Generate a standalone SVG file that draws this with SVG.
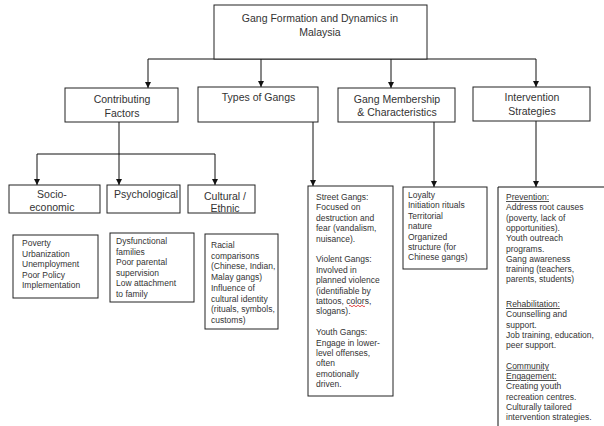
<svg xmlns="http://www.w3.org/2000/svg" width="604" height="426" viewBox="0 0 604 426">
<defs>
<style>
.box{fill:#fff;stroke:#222;stroke-width:1}
.hd{font-family:"Liberation Sans",Arial,sans-serif;font-size:10.5px;fill:#333;text-anchor:middle}
.tx{font-family:"Liberation Sans",Arial,sans-serif;font-size:8.5px;fill:#333}
.ln{fill:none;stroke:#111;stroke-width:1}
.ul{text-decoration:underline}
</style>
<marker id="ah" markerWidth="6" markerHeight="6" refX="6" refY="3" orient="auto" markerUnits="userSpaceOnUse">
<path d="M0,0 L6,3 L0,6 z" fill="#111"/>
</marker>
</defs>
<rect width="604" height="426" fill="#fff"/>

<g id="connectors">
<path class="ln" d="M148,59 H536"/>
<path class="ln" d="M148,59 V88" marker-end="url(#ah)"/>
<path class="ln" d="M261,59 V87" marker-end="url(#ah)"/>
<path class="ln" d="M391,59 V88" marker-end="url(#ah)"/>
<path class="ln" d="M536,59 V87" marker-end="url(#ah)"/>
<path class="ln" d="M119,122 V185" marker-end="url(#ah)"/>
<path class="ln" d="M37,154 H215"/>
<path class="ln" d="M37,154 V185" marker-end="url(#ah)"/>
<path class="ln" d="M215,154 V185" marker-end="url(#ah)"/>
<path class="ln" d="M313,122 V186" marker-end="url(#ah)"/>
<path class="ln" d="M434,122 V187" marker-end="url(#ah)"/>
<path class="ln" d="M536,121 V187" marker-end="url(#ah)"/>
</g>

<g id="root">
<rect class="box" x="214" y="5" width="213" height="54"/>
<text class="hd" x="320" y="21.5">Gang Formation and Dynamics in</text>
<text class="hd" x="320" y="35.5">Malaysia</text>
</g>

<g id="contributing">
<rect class="box" x="65" y="88" width="113" height="34"/>
<text class="hd" x="122" y="102.5">Contributing</text>
<text class="hd" x="122" y="116.5">Factors</text>
</g>

<g id="types">
<rect class="box" x="198" y="87" width="120" height="35"/>
<text class="hd" x="258.5" y="100.5">Types of Gangs</text>
</g>

<g id="membership">
<rect class="box" x="338" y="88" width="117" height="34"/>
<text class="hd" x="397" y="102.5">Gang Membership</text>
<text class="hd" x="397" y="115.5">&amp; Characteristics</text>
</g>

<g id="intervention">
<rect class="box" x="473" y="87" width="117" height="34"/>
<text class="hd" x="532" y="100.5">Intervention</text>
<text class="hd" x="532" y="114.5">Strategies</text>
</g>

<g id="socio">
<rect class="box" x="9" y="185" width="91" height="28"/>
<text class="hd" x="52" y="197.5">Socio-</text>
<text class="hd" x="52" y="211">economic</text>
</g>

<g id="psych">
<rect class="box" x="107" y="185" width="73" height="28"/>
<text class="hd" x="146" y="197.5">Psychological</text>
</g>

<g id="cultural">
<rect class="box" x="188" y="185" width="67" height="28"/>
<text class="hd" x="225" y="199.5">Cultural /</text>
<text class="hd" x="225" y="212">Ethnic</text>
</g>

<g id="socio-details">
<rect class="box" x="13" y="235" width="85" height="63"/>
<text class="tx" x="22" y="246">Poverty</text>
<text class="tx" x="22" y="256.5">Urbanization</text>
<text class="tx" x="22" y="267">Unemployment</text>
<text class="tx" x="22" y="277.5">Poor Policy</text>
<text class="tx" x="22" y="288">Implementation</text>
</g>

<g id="psych-details">
<rect class="box" x="110" y="233" width="84" height="69"/>
<text class="tx" x="116" y="244">Dysfunctional</text>
<text class="tx" x="116" y="254.6">families</text>
<text class="tx" x="116" y="265.2">Poor parental</text>
<text class="tx" x="116" y="275.8">supervision</text>
<text class="tx" x="116" y="286.4">Low attachment</text>
<text class="tx" x="116" y="297">to family</text>
</g>

<g id="cultural-details">
<rect class="box" x="205" y="234" width="73" height="95"/>
<text class="tx" x="211" y="248">Racial</text>
<text class="tx" x="211" y="258.7">comparisons</text>
<text class="tx" x="211" y="269.4">(Chinese, Indian,</text>
<text class="tx" x="211" y="280.1">Malay gangs)</text>
<text class="tx" x="211" y="290.8">Influence of</text>
<text class="tx" x="211" y="301.5">cultural identity</text>
<text class="tx" x="211" y="312.2">(rituals, symbols,</text>
<text class="tx" x="211" y="322.9">customs)</text>
</g>

<g id="types-details">
<rect class="box" x="308" y="186" width="85" height="210"/>
<text class="tx" x="316" y="200">Street Gangs:</text>
<text class="tx" x="316" y="210.4">Focused on</text>
<text class="tx" x="316" y="220.8">destruction and</text>
<text class="tx" x="316" y="231.2">fear (vandalism,</text>
<text class="tx" x="316" y="241.6">nuisance).</text>
<text class="tx" x="316" y="262.4">Violent Gangs:</text>
<text class="tx" x="316" y="272.8">Involved in</text>
<text class="tx" x="316" y="283.2">planned violence</text>
<text class="tx" x="316" y="293.6">(identifiable by</text>
<text class="tx" x="316" y="304">tattoos, colors,</text>
<path d="M349,306 q1,-1.5 2,0 t2,0 t2,0 t2,0 t2,0 t2,0 t2,0 t2,0" fill="none" stroke="#d22" stroke-width="0.8"/>
<text class="tx" x="316" y="314.4">slogans).</text>
<text class="tx" x="316" y="335.2">Youth Gangs:</text>
<text class="tx" x="316" y="345.6">Engage in lower-</text>
<text class="tx" x="316" y="356">level offenses,</text>
<text class="tx" x="316" y="366.4">often</text>
<text class="tx" x="316" y="376.8">emotionally</text>
<text class="tx" x="316" y="387.2">driven.</text>
</g>

<g id="membership-details">
<rect class="box" x="403" y="187" width="84" height="82"/>
<text class="tx" x="408" y="198">Loyalty</text>
<text class="tx" x="408" y="208.4">Initiation rituals</text>
<text class="tx" x="408" y="218.8">Territorial</text>
<text class="tx" x="408" y="229.2">nature</text>
<text class="tx" x="408" y="239.6">Organized</text>
<text class="tx" x="408" y="250">structure (for</text>
<text class="tx" x="408" y="260.4">Chinese gangs)</text>
</g>

<g id="intervention-details">
<path class="ln" d="M498,430 V187 H606" stroke="#222"/>
<text class="tx ul" x="506" y="200">Prevention:</text>
<text class="tx" x="506" y="210.3">Address root causes</text>
<text class="tx" x="506" y="220.6">(poverty, lack of</text>
<text class="tx" x="506" y="230.9">opportunities).</text>
<text class="tx" x="506" y="241.2">Youth outreach</text>
<text class="tx" x="506" y="251.5">programs.</text>
<text class="tx" x="506" y="261.8">Gang awareness</text>
<text class="tx" x="506" y="272.1">training (teachers,</text>
<text class="tx" x="506" y="282.4">parents, students)</text>
<text class="tx ul" x="506" y="307">Rehabilitation:</text>
<text class="tx" x="506" y="317.3">Counselling and</text>
<text class="tx" x="506" y="327.6">support.</text>
<text class="tx" x="506" y="337.9">Job training, education,</text>
<text class="tx" x="506" y="348.2">peer support.</text>
<text class="tx ul" x="506" y="368.8">Community</text>
<text class="tx ul" x="506" y="379.1">Engagement:</text>
<text class="tx" x="506" y="389.4">Creating youth</text>
<text class="tx" x="506" y="399.7">recreation centres.</text>
<text class="tx" x="506" y="410">Culturally tailored</text>
<text class="tx" x="506" y="420.3">intervention strategies.</text>
</g>
</svg>
